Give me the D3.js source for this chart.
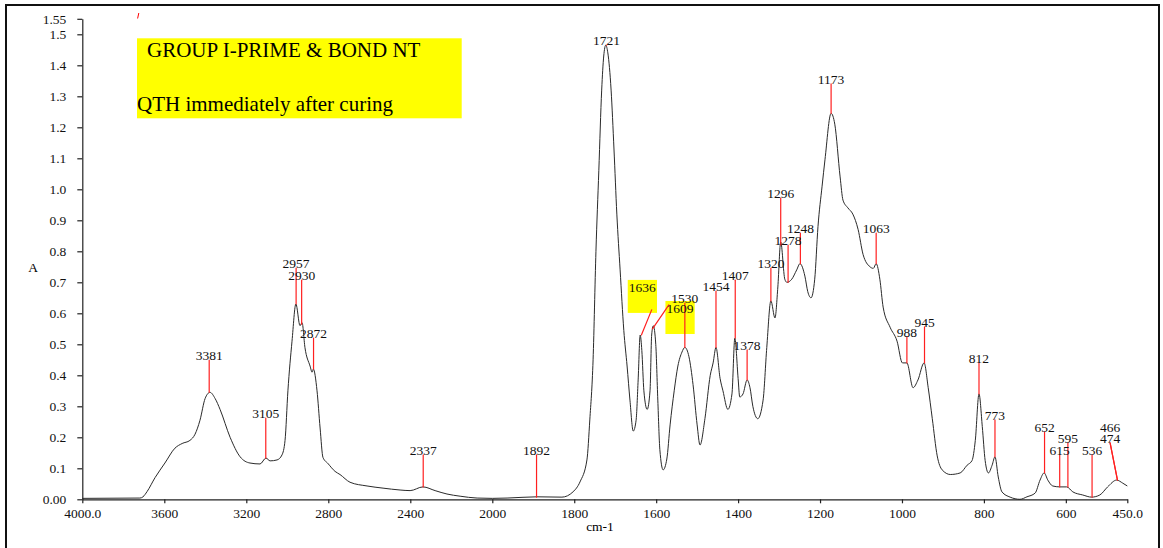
<!DOCTYPE html>
<html><head><meta charset="utf-8">
<script src="https://cdn.jsdelivr.net/npm/d3@7/dist/d3.min.js"></script>
<style>body{margin:0;background:#fff}svg{display:block}text{font-family:"Liberation Serif","Times New Roman",serif}</style>
</head><body><svg id="c" width="1163" height="548"></svg>
<script>
// spectrum: wavenumber (cm-1) and absorbance
const wavenumbers = [4000,3719,3704,3684,3645,3597,3548,3513,3475,3450,3426,3401,3377,3352,3328,3279,3230,3182,3133,3104,3084,3050,3026,3011,2997,2977,2958,2938,2928,2914,2889,2879,2873,2855,2840,2826,2801,2767,2743,2694,2611,2533,2450,2401,2338,2279,2221,2157,2074,2000,
1964,1891,1830,1803,1786,1769,1762,1754,1747,1740,1733,1728,1723,1718,1710,1703,1696,1688,1679,1671,1664,1656,1649,1644,1639,1635,1630,1622,1615,1611,1607,1601,1596,1591,1583,1574,1566,1556,1547,1537,1530,1520,1510,1500,1493,1481,1468,1461,1454,1444,1437,1425,1415,1408,1400,1396,1388,1378,1371,1364,1352,1339,1330,1320,1310,1303,1296,1286,1281,1269,1257,1249,1237,1230,1222,1213,1205,1195,1188,1173,1164,1151,1144,1132,1120,1107,1095,1078,1070,1063,1054,1046,1029,1012,999,988,973,961,946,936,926,914,902,882,858,841,829,821,812,804,797,789,780,773,765,756,736,712,695,675,663,653,644,632,615,598,583,559,537,517,498,476,461,450];
const absorbance = [0.003,0.004,0.008,0.025,0.07,0.117,0.165,0.18,0.19,0.21,0.255,0.325,0.345,0.325,0.29,0.20,0.137,0.117,0.114,0.133,0.124,0.127,0.143,0.19,0.35,0.51,0.63,0.56,0.57,0.49,0.43,0.41,0.42,0.35,0.23,0.135,0.115,0.09,0.08,0.055,0.043,0.036,0.03,0.028,0.04,0.028,0.017,0.01,0.004,0.003,
0.004,0.008,0.007,0.024,0.056,0.127,0.256,0.45,0.80,1.06,1.32,1.43,1.465,1.44,1.32,1.13,0.92,0.74,0.545,0.43,0.32,0.22,0.255,0.385,0.53,0.48,0.35,0.29,0.35,0.53,0.56,0.50,0.32,0.16,0.095,0.13,0.24,0.35,0.43,0.475,0.49,0.46,0.37,0.24,0.175,0.26,0.40,0.44,0.49,0.39,0.35,0.29,0.34,0.52,0.39,0.33,0.34,0.385,0.36,0.30,0.26,0.32,0.49,0.64,0.585,0.685,0.83,0.71,0.70,0.71,0.74,0.76,0.72,0.67,0.65,0.71,0.88,1.01,1.095,1.245,1.21,1.04,0.965,0.94,0.92,0.87,0.79,0.75,0.745,0.76,0.71,0.62,0.555,0.51,0.44,0.44,0.36,0.385,0.44,0.36,0.26,0.14,0.095,0.08,0.085,0.11,0.125,0.19,0.34,0.235,0.125,0.085,0.11,0.137,0.072,0.024,0.007,0.0,0.008,0.02,0.062,0.085,0.062,0.043,0.04,0.04,0.024,0.014,0.007,0.014,0.04,0.062,0.052,0.043];

// peak annotations
const peakLabels = ['3381','3105','2957','2930','2872','2337','1892','1721','1636','1609','1530','1454','1407','1378','1320','1296','1278','1248','1173','1063','988','945','812','773','652','615','595','536','466','474'];
const peakWn     = [3381,3105,2957,2930,2872,2337,1892,1721,1636,1609,1530,1454,1407,1378,1320,1296,1278,1248,1173,1063,988,945,812,773,652,615,595,536,474,474];
const peakBaseA  = [0.345,0.133,0.63,0.565,0.42,0.04,0.007,1.465,0.53,0.55,0.49,0.49,0.52,0.385,0.64,0.82,0.70,0.76,1.245,0.76,0.44,0.44,0.34,0.137,0.085,0.04,0.04,0.007,0.062,0.062];
const peakTipWn  = [3381,3105,2957,2930,2872,2337,1892,1721,1611,1569,1530,1454,1407,1378,1320,1296,1278,1248,1173,1063,988,945,812,773,652,615,595,536,492,492];
const peakTipA   = [0.449,0.262,0.746,0.707,0.520,0.143,0.143,1.465,0.611,0.627,0.633,0.672,0.707,0.482,0.746,0.972,0.820,0.859,1.340,0.859,0.524,0.556,0.440,0.256,0.217,0.143,0.182,0.143,0.182,0.182];
const labelWn    = [3381,3105,2957,2930,2872,2337,1892,1721,1634,1542,1530,1454,1407,1378,1320,1296,1278,1248,1173,1063,988,945,812,773,652,615,595,536,492,492];
const labelA     = [0.449,0.262,0.746,0.707,0.520,0.143,0.143,1.465,0.669,0.601,0.633,0.672,0.707,0.482,0.746,0.972,0.820,0.859,1.340,0.859,0.524,0.556,0.440,0.256,0.217,0.143,0.182,0.143,0.217,0.182];
const highlighted = ['1636','1609'];

const yTicks = [0,0.1,0.2,0.3,0.4,0.5,0.6,0.7,0.8,0.9,1.0,1.1,1.2,1.3,1.4,1.5,1.55];
const yTickLabels = ['0.00','0.1','0.2','0.3','0.4','0.5','0.6','0.7','0.8','0.9','1.0','1.1','1.2','1.3','1.4','1.5','1.55'];
const xTicks = [4000,3600,3200,2800,2400,2000,1800,1600,1400,1200,1000,800,600,450];
const xTickLabels = ['4000.0','3600','3200','2800','2400','2000','1800','1600','1400','1200','1000','800','600','450.0'];
const titleLines = ['GROUP I-PRIME & BOND NT','QTH immediately after curing'];

const svg = d3.select('#c');
// outer frame
svg.append('rect').attr('x',6).attr('y',5).attr('width',1153).attr('height',560)
  .attr('fill','none').attr('stroke','#111').attr('stroke-width',2);

const x = d3.scaleLinear().domain([4000,2000,450]).range([82.3,492.3,1127.3]);
const y = d3.scaleLinear().domain([0,1.55]).range([499.3,18.8]);

// axes
const ya = svg.append('g').attr('transform','translate(82.3,0)')
  .call(d3.axisLeft(y).tickValues(yTicks).tickFormat((d,i)=>yTickLabels[i]).tickSize(5).tickSizeOuter(0).tickPadding(11));
const xa = svg.append('g').attr('transform','translate(0,499.3)')
  .call(d3.axisBottom(x).tickValues(xTicks).tickFormat((d,i)=>xTickLabels[i]).tickSize(4).tickSizeOuter(0).tickPadding(5));
[ya,xa].forEach(g=>{
  g.selectAll('path,line').attr('stroke','#222').attr('stroke-width',1.2);
  g.selectAll('text').attr('font-size',13.5).attr('fill','#111').style('font-family','"Liberation Serif",serif');
});
svg.append('text').attr('x',33).attr('y',272).attr('text-anchor','middle').attr('font-size',13.5).text('A');
svg.append('text').attr('x',600).attr('y',531).attr('text-anchor','middle').attr('font-size',13.5).text('cm-1');

// title box
svg.append('rect').attr('x',137).attr('y',38.3).attr('width',324.7).attr('height',80).attr('fill','#ffff00');
svg.append('text').attr('x',147).attr('y',57).attr('font-size',21).text(titleLines[0]);
svg.append('text').attr('x',137).attr('y',111).attr('font-size',21).text(titleLines[1]);
svg.append('line').attr('x1',137.6).attr('y1',18.5).attr('x2',138.8).attr('y2',13).attr('stroke','#f00').attr('stroke-width',1);

// highlight boxes
const peaks = peakLabels.map((t,i)=>({t,wn:peakWn[i],base:peakBaseA[i],tipWn:peakTipWn[i],tipA:peakTipA[i],lwn:labelWn[i],la:labelA[i]}));
const gBox = svg.append('g'), gLine = svg.append('g'), gText = svg.append('g');

// spectrum
svg.insert('path','g').datum(wavenumbers.map((w,i)=>[w,absorbance[i]]))
  .attr('fill','none').attr('stroke','#2a2a2a').attr('stroke-width',1)
  .attr('d',d3.line().x(d=>x(d[0])).y(d=>y(d[1])).curve(d3.curveMonotoneX));

peaks.forEach(p=>{
  gLine.append('line').attr('x1',x(p.tipWn)).attr('y1',y(p.tipA)).attr('x2',x(p.wn)).attr('y2',y(p.base))
    .attr('stroke','#ff2020').attr('stroke-width',1.2).attr('stroke-linecap','round');
  const t = gText.append('text').attr('x',x(p.lwn)).attr('y',y(p.la)).attr('text-anchor','middle')
    .attr('font-size',13.5).attr('fill','#111').text(p.t);
  if (highlighted.includes(p.t)) {
    const bb = t.node().getBBox();
    gBox.append('rect').attr('x',bb.x-1).attr('y',y(p.la)-12).attr('width',bb.width+2).attr('height',33).attr('fill','#ffff00');
  }
});
</script></body></html>
